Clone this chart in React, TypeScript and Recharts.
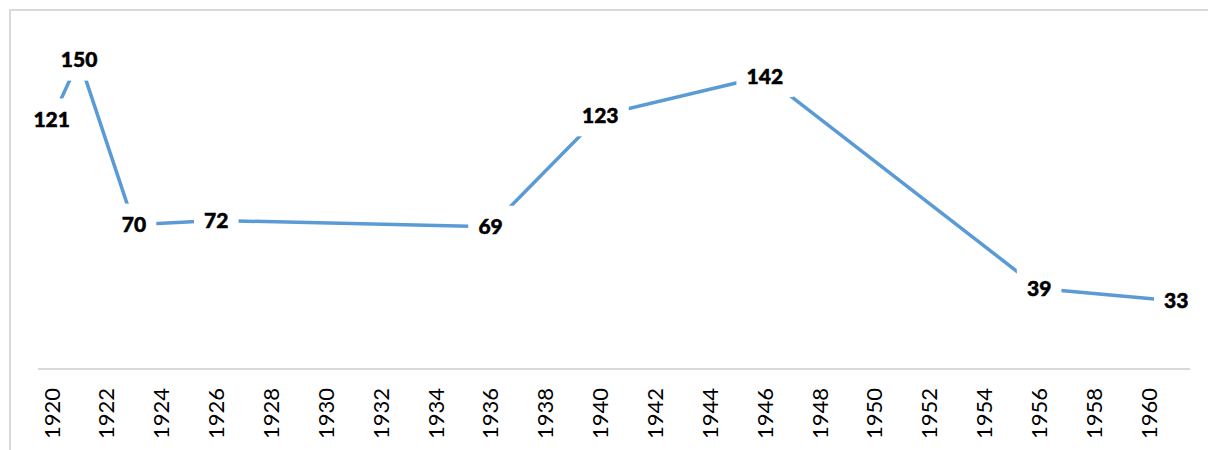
import React from 'react';
import { LineChart, Line, XAxis, YAxis, LabelList } from 'recharts';

const years = [1920, 1921, 1923, 1926, 1936, 1940, 1946, 1956, 1961];
const values = [121, 150, 70, 72, 69, 123, 142, 39, 33];
const tickYears = [1920, 1922, 1924, 1926, 1928, 1930, 1932, 1934, 1936, 1938, 1940, 1942, 1944, 1946, 1948, 1950, 1952, 1954, 1956, 1958, 1960];

const data = years.map((y, i) => ({ year: y, value: values[i] }));

const FONT = 'Lato, "Open Sans", "Liberation Sans", sans-serif';

const YearTick = (props: any) => {
  const { x, y, payload } = props;
  const ay = y + 19;
  return (
    <text
      x={x}
      y={ay}
      transform={`rotate(-90, ${x}, ${ay})`}
      textAnchor="end"
      dy="0.36em"
      fill="#000"
      fontFamily={FONT}
      fontSize={22}
    >
      {payload.value}
    </text>
  );
};

const ValueLabel = (props: any) => {
  const { x, y, value } = props;
  const s = String(value);
  const w = s.length * 12.3 + 20;
  const h = 42;
  return (
    <g>
      <rect x={x - w / 2} y={y - h / 2} width={w} height={h} fill="#fff" />
      <text
        x={x}
        y={y}
        dy="0.36em"
        textAnchor="middle"
        fontFamily={FONT}
        fontWeight={900}
        fontSize={21}
        fill="#000"
        stroke="#000"
        strokeWidth={0.5}
      >
        {s}
      </text>
    </g>
  );
};

export default function App() {
  return (
    <>
      <style>{`html, body { margin: 0; padding: 0; overflow: hidden; background: #fff; }`}</style>
      <div style={{ position: 'relative', width: 1208, height: 450, background: '#fff', overflow: 'hidden' }}>
        <div style={{ position: 'absolute', left: 9, top: 9, width: 1199, height: 2, background: '#d9d9d9' }} />
        <div style={{ position: 'absolute', left: 9, top: 9, width: 2, height: 441, background: '#d9d9d9' }} />
        <div style={{ position: 'absolute', left: 0, top: 0 }}>
          <LineChart width={1208} height={450} data={data} margin={{ top: 39, right: 18, bottom: 0, left: 38 }}>
            <XAxis
              dataKey="year"
              type="number"
              domain={[1919.5, 1961.5]}
              ticks={tickYears}
              interval={0}
              tickLine={false}
              tickSize={0}
              tickMargin={0}
              axisLine={{ stroke: '#d9d9d9', strokeWidth: 2 }}
              height={81}
              tick={<YearTick />}
              allowDataOverflow
            />
            <YAxis hide domain={[0, 160]} />
            <Line
              type="linear"
              dataKey="value"
              stroke="#5B9BD5"
              strokeWidth={3.5}
              dot={false}
              activeDot={false}
              isAnimationActive={false}
            >
              <LabelList dataKey="value" content={<ValueLabel />} />
            </Line>
          </LineChart>
        </div>
      </div>
    </>
  );
}
